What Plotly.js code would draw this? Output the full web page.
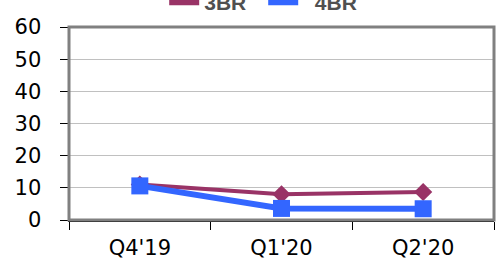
<!DOCTYPE html>
<html>
<head>
<meta charset="utf-8">
<script src="https://cdn.plot.ly/plotly-3.0.1.min.js"></script>
<style>html,body{margin:0;padding:0;background:#fff;}#chart{width:500px;height:258px;}</style>
</head>
<body>
<div id="chart"></div>
<script>
var categories = ["Q4'19", "Q1'20", "Q2'20"];
var series3BR = [11, 8, 8.7];
var series4BR = [10.6, 3.6, 3.5];
var yTicks = [0, 10, 20, 30, 40, 50, 60];
var legendNames = ['3BR', '\u00A0\u00A04BR'];

var traces = [
  {x: categories, y: series3BR, mode: 'lines+markers', name: '3BR', showlegend: false,
   line: {color: '#993366', width: 4}, marker: {symbol: 'diamond', size: 14, color: '#993366'}},
  {x: categories, y: series4BR, mode: 'lines+markers', name: '4BR', showlegend: false,
   line: {color: '#3366FF', width: 6}, marker: {symbol: 'square', size: 17, color: '#3366FF'}},
  {x: [null], y: [null], mode: 'lines', name: legendNames[0], line: {color: '#993366', width: 6}},
  {x: [null], y: [null], mode: 'lines', name: legendNames[1], line: {color: '#3366FF', width: 6}}
];

var layout = {
  width: 500, height: 258,
  margin: {l: 69, r: 6, t: 27, b: 38, autoexpand: false},
  paper_bgcolor: '#fff', plot_bgcolor: '#fff',
  showlegend: true,
  legend: {orientation: 'h', x: 0.224, xanchor: 'left', y: 1.127, yanchor: 'middle',
    font: {family: 'Liberation Sans', size: 21, color: '#505050', weight: 'bold'},
    entrywidth: 54, entrywidthmode: 'pixels', bgcolor: 'rgba(0,0,0,0)'},
  xaxis: {type: 'category', range: [-0.5, 2.5], tickson: 'boundaries', ticks: 'outside', ticklen: 8,
    tickcolor: '#000', tickwidth: 1, showline: true, linecolor: '#000', linewidth: 1.5,
    showgrid: false, zeroline: false, ticklabelstandoff: 8,
    tickfont: {family: 'DejaVu Sans', size: 21, color: '#000'}},
  yaxis: {range: [0, 60], tickvals: yTicks, ticktext: yTicks.map(String), ticks: 'outside', ticklen: 8,
    tickcolor: '#000', tickwidth: 1, showline: true, linecolor: '#000', linewidth: 1.5,
    showgrid: true, gridcolor: '#c0c0c0', gridwidth: 1, zeroline: false, ticklabelstandoff: 14,
    tickfont: {family: 'DejaVu Sans', size: 21, color: '#000'}},
  shapes: [{type: 'rect', xref: 'paper', yref: 'paper', x0: 0, x1: 1, y0: 0, y1: 1,
    line: {color: '#808080', width: 3}, layer: 'above'}]
};

Plotly.newPlot('chart', traces, layout, {displayModeBar: false, staticPlot: true});
</script>
</body>
</html>
